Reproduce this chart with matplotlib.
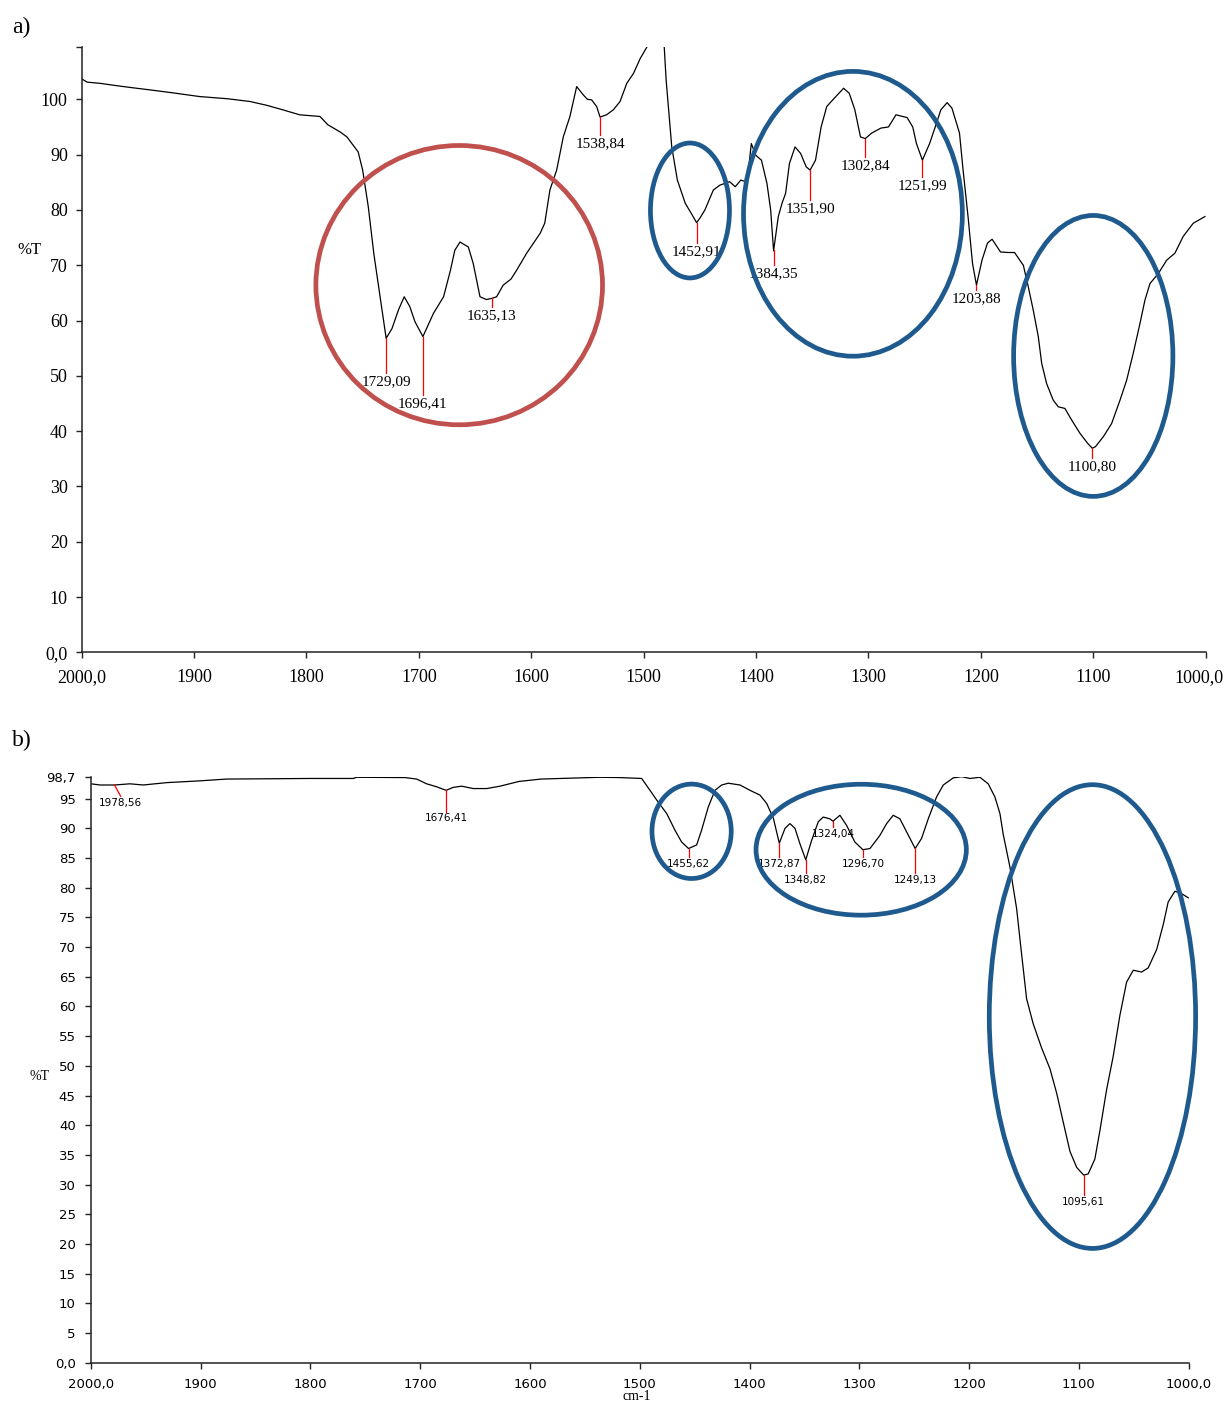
import numpy as np
import matplotlib
matplotlib.use("Agg")
import matplotlib.pyplot as plt
import matplotlib.transforms as mtransforms
from matplotlib.patches import Ellipse

# ---- spectrum a) ----
wn_a = [2000, 1995, 1984, 1970, 1955, 1939, 1920, 1895, 1870, 1850, 1835, 1821, 1806,
        1788, 1781, 1770, 1764, 1754, 1750, 1745, 1740, 1734, 1729.1, 1724, 1718, 1713,
        1708, 1703.5, 1696.4, 1687, 1678, 1672, 1668, 1663.4, 1656, 1651.6, 1645.6, 1640,
        1635.1, 1630.8, 1625, 1618, 1613, 1604, 1592, 1588, 1583.4, 1577.4, 1571.5, 1565.6,
        1559.6, 1553.7, 1550, 1546.3, 1541.8, 1538.8, 1533, 1527, 1521, 1515, 1509, 1503,
        1497, 1492, 1487, 1484, 1481.7, 1480, 1475, 1470, 1463, 1458, 1452.9, 1450, 1445.5,
        1438, 1432, 1423.5, 1418.5, 1413.5, 1408, 1404.2, 1400.3, 1395.2, 1390.3, 1387,
        1384.4, 1380.2, 1376.9, 1373.7, 1370.3, 1365.3, 1360.3, 1355.4, 1351.9, 1347.1,
        1342.1, 1337.1, 1330.4, 1322.1, 1317.1, 1312.1, 1307.1, 1302.8, 1297.1, 1288.9,
        1282.2, 1275.5, 1265.6, 1260.6, 1257.3, 1252.0, 1245.6, 1240.6, 1235.6, 1230,
        1225.7, 1219, 1215.8, 1211.4, 1207.4, 1203.9, 1199, 1194.1, 1190, 1182.5, 1176,
        1170, 1164, 1162.2, 1157.8, 1153.4, 1148.9, 1145.9, 1141.5, 1135.6, 1131.1, 1125.2,
        1119.2, 1111.8, 1105, 1100.8, 1098, 1091, 1083.6, 1076.2, 1070.3, 1064.4, 1058.4,
        1054, 1049.5, 1042.1, 1034.7, 1027.3, 1020, 1011, 1000.6]
t_a = [103.7, 103.1, 102.9, 102.5, 102.1, 101.7, 101.2, 100.5, 100.1, 99.6, 98.9, 98.1, 97.2,
       96.9, 95.4, 94.1, 93.2, 90.5, 87.2, 80.6, 72.0, 63.7, 56.8, 58.5, 62.0, 64.3,
       62.5, 59.8, 57.1, 61.3, 64.3, 69.0, 72.7, 74.2, 73.3, 70.3, 64.3, 63.8,
       64.0, 64.3, 66.4, 67.5, 69.1, 72.2, 75.8, 77.6, 83.6, 87.2, 93.2, 96.9,
       102.3, 100.8, 100.0, 99.9, 98.7, 96.8, 97.2, 98.1, 99.6, 102.9, 104.7, 107.4,
       109.5, 112.0, 112.0, 110.5, 109.5, 103.5, 91.4, 85.4, 81.2, 79.5, 77.7, 78.5, 80.0,
       83.6, 84.5, 85.1, 84.2, 85.4, 85.0, 92.0, 89.9, 89.0, 84.8, 80.0,
       72.6, 78.8, 81.2, 83.0, 88.4, 91.4, 90.2, 87.8, 87.2, 89.0,
       95.0, 98.7, 100.2, 102.0, 101.1, 98.1, 93.2, 92.9, 93.9, 94.8,
       95.0, 97.2, 96.7, 95.0, 92.0, 89.0, 92.0, 95.0, 98.1, 99.4,
       98.4, 93.9, 87.2, 78.8, 70.3, 66.4, 70.9, 74.0, 74.7, 72.4, 72.3,
       72.3, 70.5, 70.0, 66.1, 61.9, 57.1, 52.3, 48.6, 45.6, 44.4, 44.1,
       42.0, 39.6, 37.8, 36.9, 37.2, 39.0, 41.4, 45.6, 49.2, 54.1, 59.5,
       63.7, 66.7, 68.5, 70.9, 72.2, 75.2, 77.6, 78.8]

peaks_a = ["1729,09", "1696,41", "1635,13", "1538,84", "1452,91", "1384,35",
           "1351,90", "1302,84", "1251,99", "1203,88", "1100,80"]
peak_end_a = [50.5, 46.5, 62.5, 93.5, 74.0, 70.0, 81.8, 89.6, 86.0, 65.6, 35.1]

# ---- spectrum b) ----
wn_b = [2000, 1991.8, 1978.6, 1964.5, 1952.4, 1931, 1900.7, 1876.4, 1800, 1761, 1758,
        1714, 1703.3, 1694.2, 1685.1, 1676.4, 1670, 1662.3, 1651.7, 1639.5, 1627.4, 1610,
        1590, 1536.3, 1518.1, 1498.3, 1490.7, 1483.2, 1475.5, 1468, 1461.9, 1455.6, 1448.2,
        1443.7, 1437.6, 1431.5, 1425.4, 1419.4, 1408.7, 1399.6, 1390.5, 1384.4, 1378.3,
        1372.9, 1367.7, 1363.2, 1358.6, 1354.1, 1348.8, 1343.4, 1337.4, 1332.9, 1326.8,
        1324.0, 1317.7, 1311.6, 1304.1, 1296.7, 1290.3, 1281.3, 1275.1, 1269.1, 1263,
        1256.9, 1249.1, 1243.3, 1237.2, 1229.6, 1223.5, 1214.4, 1206.8, 1199.2, 1190.1,
        1182.6, 1176.5, 1171.9, 1168.9, 1162.8, 1156.7, 1152.2, 1147.6, 1141.6, 1133.9,
        1126.3, 1120.2, 1114.2, 1108.1, 1102, 1095.6, 1091.5, 1085.4, 1080.8, 1074.7,
        1068.7, 1062.6, 1056.5, 1050.4, 1042.8, 1036.8, 1029.1, 1023.1, 1018.6, 1012.5,
        1006.4, 1000.3]
t_b = [97.5, 97.3, 97.3, 97.5, 97.3, 97.7, 98.0, 98.3, 98.4, 98.4, 98.6,
       98.55, 98.3, 97.5, 97.0, 96.4, 96.9, 97.1, 96.7, 96.7, 97.1, 97.9,
       98.3, 98.6, 98.55, 98.4, 96.4, 94.4, 92.5, 89.7, 87.7, 86.6, 87.2,
       89.7, 93.6, 96.4, 97.3, 97.6, 97.3, 96.4, 95.6, 94.2, 91.7,
       87.5, 90.0, 90.8, 90.0, 87.4, 84.7, 88.0, 91.1, 91.9, 91.6,
       91.2, 92.2, 90.5, 87.7, 86.4, 86.6, 88.8, 90.8, 92.2, 91.6,
       89.4, 86.6, 88.3, 91.6, 95.3, 97.3, 98.5, 98.7, 98.4, 98.6,
       97.5, 95.3, 92.5, 89.0, 83.5, 76.5, 68.9, 61.3, 57.1, 53.0,
       49.5, 45.4, 40.5, 35.6, 32.9, 31.6, 31.8, 34.3, 39.1, 46.0,
       51.6, 58.5, 64.1, 66.1, 65.8, 66.5, 69.6, 73.8, 77.6, 79.4,
       79.0, 78.3]

peaks_b = ["1978,56", "1676,41", "1455,62", "1372,87", "1348,82",
           "1324,04", "1296,70", "1249,13", "1095,61"]
peak_end_b = [95.4, 92.8, 85.2, 85.2, 82.5, 90.2, 85.2, 82.4, 28.2]

xticks = [2000, 1900, 1800, 1700, 1600, 1500, 1400, 1300, 1200, 1100, 1000]
xtick_labels = ["2000,0", "1900", "1800", "1700", "1600", "1500",
                "1400", "1300", "1200", "1100", "1000,0"]

RED = "#C0504D"
BLUE = "#1F5A8E"
SERIF = "Liberation Serif"
SANS = "DejaVu Sans"


def val(s):
    return float(s.replace(",", "."))


def style_axes(ax, fam, size, tlen, pad):
    for s in ["top", "right"]:
        ax.spines[s].set_visible(False)
    for s in ["left", "bottom"]:
        ax.spines[s].set_linewidth(1.1)
        ax.spines[s].set_color("#222222")
    ax.tick_params(direction="out", length=tlen, width=1.0, pad=pad, color="#222222")
    for lab in ax.get_xticklabels() + ax.get_yticklabels():
        lab.set_family(fam)
        lab.set_fontsize(size)


fig = plt.figure(figsize=(12.26, 14.05), dpi=100)

# a) ---------------------------------------------------------------
ax1 = fig.add_axes([0.0666, 0.5357, 0.9168, 0.4310])
ax1.plot(wn_a, t_a, color="black", lw=0.9, zorder=2)
ax1.set_xlim(2000, 1000)
ax1.set_ylim(0, 109.5)
ax1.set_xticks(xticks)
ax1.set_xticklabels(xtick_labels)
ax1.set_yticks(list(range(0, 101, 10)) + [109.5])
ax1.set_yticklabels(["0,0"] + [str(v) for v in range(10, 101, 10)] + [""])
style_axes(ax1, SERIF, 13, 4, 6)
ax1.tick_params(axis="x", pad=8)
# keep the last x label inside the figure
last = ax1.get_xticklabels()[-1]
last.set_transform(last.get_transform() +
                   mtransforms.ScaledTranslation(-7 / 100, 0, fig.dpi_scale_trans))

x_a = np.array(wn_a)[::-1]
y_a = np.array(t_a)[::-1]
for lab, end in zip(peaks_a, peak_end_a):
    w = val(lab)
    top = np.interp(w, x_a, y_a)
    ax1.plot([w, w], [top, end], color="red", lw=0.9, zorder=2)
    ax1.text(w, end - 0.4, lab, ha="center", va="top", family=SERIF,
             fontsize=11, zorder=3)

for cx, cy, w, h, col in [(1664.1, 66.4, 255, 50.5, RED),
                          (1458.8, 79.9, 70.3, 24.4, BLUE),
                          (1313.8, 79.3, 194.7, 51.5, BLUE),
                          (1100.0, 53.6, 141.7, 50.8, BLUE)]:
    ax1.add_patch(Ellipse((cx, cy), w, h, fill=False, edgecolor=col,
                          lw=3.4, zorder=4, clip_on=False))

fig.text(29 / 1226, 1 - 250 / 1405, "%T", family=SERIF, fontsize=12,
         ha="center", va="center")
fig.text(12 / 1226, 1 - 27 / 1405, "a)", family=SERIF, fontsize=17,
         ha="left", va="center")

# b) ---------------------------------------------------------------
ax2 = fig.add_axes([0.0742, 0.0301, 0.8953, 0.4171])
ax2.plot(wn_b, t_b, color="black", lw=0.9, zorder=2)
ax2.set_xlim(2000, 1000)
ax2.set_ylim(0, 98.7)
ax2.set_xticks(xticks)
ax2.set_xticklabels(xtick_labels)
ax2.set_yticks(list(range(0, 96, 5)) + [98.7])
ax2.set_yticklabels(["0,0"] + [str(v) for v in range(5, 96, 5)] + ["98,7"])
style_axes(ax2, SANS, 9.5, 4, 7)

x_b = np.array(wn_b)[::-1]
y_b = np.array(t_b)[::-1]
for i, (lab, end) in enumerate(zip(peaks_b, peak_end_b)):
    w = val(lab)
    top = np.interp(w, x_b, y_b)
    # the first marker leans a little to the right
    w_end = w - 5.6 if i == 0 else w
    ax2.plot([w, w_end], [top, end], color="red", lw=0.9, zorder=2)
    ax2.text(w_end, end - 0.3, lab, ha="center", va="top", family=SANS,
             fontsize=7.5, zorder=3)

for cx, cy, w, h in [(1452.8, 89.5, 72.2, 15.9),
                     (1298.3, 86.4, 191.6, 22.05),
                     (1087.6, 58.3, 188.0, 78.1)]:
    ax2.add_patch(Ellipse((cx, cy), w, h, fill=False, edgecolor=BLUE,
                          lw=3.4, zorder=4, clip_on=False))

fig.text(40 / 1226, 1 - 1077 / 1405, "%T", family=SERIF, fontsize=10,
         ha="center", va="center")
fig.text(637 / 1226, 1 - 1397 / 1405, "cm-1", family=SERIF, fontsize=10,
         ha="center", va="center")
fig.text(12 / 1226, 1 - 740 / 1405, "b)", family=SERIF, fontsize=17,
         ha="left", va="center")

fig.savefig("out.png", dpi=100)
